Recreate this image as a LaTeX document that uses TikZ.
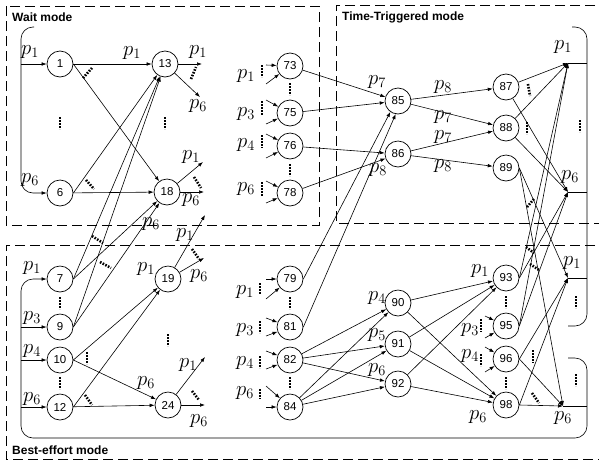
\documentclass[tikz,border=0pt]{standalone}
\usepackage{fontspec}
\setsansfont{Liberation Sans}
\usetikzlibrary{arrows.meta}
\begin{document}
\begin{tikzpicture}[x=1pt,y=-1pt,
 nd/.style={circle, draw, line width=0.7pt, minimum size=26pt, inner sep=0pt, font=\fontsize{11.5}{12}\sffamily},
 ar/.style={-{Latex[length=5pt,width=3.6pt]}, line width=0.6pt},
 ln/.style={line width=0.6pt},
 dts/.style={line width=2.6pt, dash pattern=on 1.6pt off 1.4pt},
 lb/.style={font=\fontsize{20}{22}\selectfont, inner sep=0pt},
 ttl/.style={font=\fontsize{12}{14}\sffamily\bfseries, anchor=west, inner sep=0pt},
 bx/.style={line width=0.8pt, dash pattern=on 10pt off 5pt}]
\useasboundingbox (0,0) rectangle (599,464);

% mode boxes
\draw[bx] (6,6) rectangle (319,225);
\draw[bx] (610,5) -- (336,5) -- (336,223) -- (610,223);
\draw[bx] (610,245) -- (6,245) -- (6,459) -- (610,459);
\node[ttl] (tw) at (12,17) {Wait mode};
\node[ttl] (tt) at (342,17) {Time-Triggered mode};
\node[ttl] (tb) at (12,450) {Best-effort mode};

% nodes
\node[nd] (n1) at (60,64) {1};
\node[nd] (n6) at (60,193) {6};
\node[nd] (n13) at (165,64) {13};
\node[nd] (n18) at (167,192) {18};
\node[nd] (n7) at (60,279) {7};
\node[nd] (n9) at (60,327) {9};
\node[nd] (n10) at (60,360) {10};
\node[nd] (n12) at (60,407) {12};
\node[nd] (n19) at (168,279) {19};
\node[nd] (n24) at (168,405) {24};
\node[nd] (n73) at (290,66) {73};
\node[nd] (n75) at (290,113) {75};
\node[nd] (n76) at (290,146) {76};
\node[nd] (n78) at (290,193) {78};
\node[nd] (n79) at (290,279) {79};
\node[nd] (n81) at (290,327) {81};
\node[nd] (n82) at (290,360) {82};
\node[nd] (n84) at (290,407) {84};
\node[nd] (n85) at (398,101) {85};
\node[nd] (n86) at (398,154) {86};
\node[nd] (n87) at (506,87) {87};
\node[nd] (n88) at (506,128) {88};
\node[nd] (n89) at (506,168) {89};
\node[nd] (n90) at (398,303) {90};
\node[nd] (n91) at (398,344) {91};
\node[nd] (n92) at (398,384) {92};
\node[nd] (n93) at (506,278) {93};
\node[nd] (n95) at (506,326) {95};
\node[nd] (n96) at (506,359) {96};
\node[nd] (n98) at (506,405) {98};

% terminal points
\coordinate (tp1) at (568,63);
\coordinate (tp6) at (568,192);
\coordinate (bp1) at (568,278);
\coordinate (bp6) at (563,406);

% brackets
\draw[ar, rounded corners=12pt] (34,27) -- (21,27) -- (21,193) -- (n6);
\draw[ar] (21,64) -- (n1);
\draw[ar, rounded corners=12pt] (568,358) -- (587,358) -- (587,438) -- (21,438) -- (21,279) -- (n7);
\draw[ar] (21,327) -- (n9);
\draw[ar] (21,360) -- (n10);
\draw[ar] (21,407) -- (n12);
\draw[ln, rounded corners=12pt] (572,27) -- (587,27) -- (587,326) -- (568,326);
\draw[ln] (tp1) -- (587,63);
\draw[ln] (tp6) -- (587,192);
\draw[ln] (bp1) -- (587,278);
\draw[ln] (bp6) -- (587,406);

% wait mode edges
\draw[ar] (n1) -- (n13);
\draw[ar] (n1.east) -- (n18);
\draw[ar] (n6.east) -- (n13);
\draw[ar] (n6) -- (n18);
\draw[ar] (n7.east) -- (n13);
\draw[ar] (n7.east) -- (n18);
\draw[ar] (n9.east) -- (n13);
\draw[ar] (n9.east) -- (n18);
\coordinate (o13a) at (202,64);
\coordinate (o13b) at (200,97);
\coordinate (o18a) at (203,162);
\coordinate (o18b) at (204,192);
\draw[ar] (n13) -- (o13a);
\draw[ar] (n13) -- (o13b);
\draw[ar] (n18) -- (o18a);
\draw[ar] (n18) -- (o18b);

% best effort left
\draw[ar] (n10.east) -- (n19);
\draw[ar] (n10.east) -- (n24);
\draw[ar] (n12.east) -- (n19);
\draw[ar] (n12) -- (n24);
\coordinate (o19a) at (205,215);
\coordinate (o19b) at (204,258);
\coordinate (o24a) at (205,357);
\coordinate (o24b) at (205,405);
\draw[ar] (n19) -- (o19a);
\draw[ar] (n19) -- (o19b);
\draw[ar] (n24) -- (o24a);
\draw[ar] (n24) -- (o24b);

% middle inputs
\foreach \n/\a/\b in {73/65/84, 75/100/124, 76/134/158, 78/181/203, 79/279/299, 81/318/336, 82/351/369, 84/386/407}{
  \coordinate (ia\n) at (266,\a);
  \coordinate (ib\n) at (266,\b);
  \draw[ar] (ia\n) -- (n\n);
  \draw[ar] (ib\n) -- (n\n);
}
\foreach \n/\a/\b in {95/316/338, 96/347/372}{
  \coordinate (ia\n) at (485,\a);
  \coordinate (ib\n) at (485,\b);
  \draw[ar] (ia\n) -- (n\n);
  \draw[ar] (ib\n) -- (n\n);
}

% middle edges
\draw[ar] (n73) -- (n85);
\draw[ar] (n75) -- (n85);
\draw[ar] (n76) -- (n86);
\draw[ar] (n78) -- (n86);
\draw[ar] (n79.east) -- (n85.235);
\draw[ar] (n81.east) -- (n85.260);
\draw[ar] (n82) -- (n90);
\draw[ar] (n82) -- (n91);
\draw[ar] (n82) -- (n92);
\draw[ar] (n84) -- (n90);
\draw[ar] (n84) -- (n91);
\draw[ar] (n84) -- (n92);
\draw[ar] (n85) -- (n87);
\draw[ar] (n85) -- (n88);
\draw[ar] (n86) -- (n88);
\draw[ar] (n86) -- (n89);
\draw[ar] (n90) -- (n93);
\draw[ar] (n90) -- (n98);
\draw[ar] (n91) -- (n93);
\draw[ar] (n91) -- (n98);
\draw[ar] (n92) -- (n93);
\draw[ar] (n92) -- (n98);

% right side edges
\draw[ar] (n87) -- (tp1);
\draw[ar] (n87) -- (tp6);
\draw[ar] (n88) -- (tp1);
\draw[ar] (n88) -- (tp6);
\draw[ar] (n89.east) -- (bp1);
\draw[ar] (n89.east) -- (bp6);
\draw[ar] (n93.east) -- (tp1);
\draw[ar] (n93.east) -- (tp6);
\draw[ar] (n95.east) -- (tp1);
\draw[ar] (n95.east) -- (tp6);
\draw[ar] (n96.east) -- (bp1);
\draw[ar] (n96.east) -- (bp6);
\draw[ar] (n98.east) -- (bp1);
\draw[ar] (n98.east) -- (bp6);

% dots
\draw[dts] (60,117) -- (60,129);
\draw[dts] (165,117) -- (165,129);
\draw[dts] (83,78) -- (92,68);
\draw[dts] (86,180) -- (94,189);
\draw[dts] (191,79) -- (196,67);
\draw[dts] (194,177) -- (201,188);
\draw[dts] (92,236) -- (103,243);
\draw[dts] (100,262) -- (111,268);
\draw[dts] (60,297) -- (60,309);
\draw[dts] (60,377) -- (60,389);
\draw[dts] (87,352) -- (87,364);
\draw[dts] (85,395) -- (92,405);
\draw[dts] (168,334) -- (168,346);
\draw[dts] (192,249) -- (199,259);
\draw[dts] (192,391) -- (199,400);
\draw[dts] (262,65) -- (262,77);
\draw[dts] (262,101) -- (262,115);
\draw[dts] (262,135) -- (262,148);
\draw[dts] (262,182) -- (262,196);
\draw[dts] (260,283) -- (260,294);
\draw[dts] (260,321) -- (260,333);
\draw[dts] (260,356) -- (260,368);
\draw[dts] (260,389) -- (260,399);
\draw[dts] (290,83) -- (290,95);
\draw[dts] (290,164) -- (290,176);
\draw[dts] (290,297) -- (290,309);
\draw[dts] (290,377) -- (290,389);
\draw[dts] (528,84) -- (530,96);
\draw[dts] (527,122) -- (527,134);
\draw[dts] (527,207) -- (534,199);
\draw[dts] (580,120) -- (580,132);
\draw[dts] (576,296) -- (576,308);
\draw[dts] (576,374) -- (576,386);
\draw[dts] (506,296) -- (506,308);
\draw[dts] (506,377) -- (506,389);
\draw[dts] (481,319) -- (481,332);
\draw[dts] (481,354) -- (481,366);
\draw[dts] (533,350) -- (533,363);
\draw[dts] (532,393) -- (539,403);
\draw[dts] (526,247) -- (534,253);
\draw[dts] (530,264) -- (539,270);

% labels
\node[lb] (l01) at (30,52) {$p_1$};
\node[lb] (l02) at (30,180) {$p_6$};
\node[lb] (l03) at (132,53) {$p_1$};
\node[lb] (l04) at (198,52) {$p_1$};
\node[lb] (l05) at (198,106) {$p_6$};
\node[lb] (l06) at (191,157) {$p_1$};
\node[lb] (l07) at (191,200) {$p_6$};
\node[lb] (l08) at (151,224) {$p_6$};
\node[lb] (l09) at (32,268) {$p_1$};
\node[lb] (l10) at (32,318) {$p_3$};
\node[lb] (l11) at (32,351) {$p_4$};
\node[lb] (l12) at (32,399) {$p_6$};
\node[lb] (l13) at (146,269) {$p_1$};
\node[lb] (l14) at (146,383) {$p_6$};
\node[lb] (l15) at (185,235) {$p_1$};
\node[lb] (l16) at (199,276) {$p_6$};
\node[lb] (l17) at (188,365) {$p_1$};
\node[lb] (l18) at (199,421) {$p_6$};
\node[lb] (l19) at (246,76) {$p_1$};
\node[lb] (l20) at (246,114) {$p_3$};
\node[lb] (l21) at (246,145) {$p_4$};
\node[lb] (l22) at (246,189) {$p_6$};
\node[lb] (l23) at (245,292) {$p_1$};
\node[lb] (l24) at (245,330) {$p_3$};
\node[lb] (l25) at (245,363) {$p_4$};
\node[lb] (l26) at (245,393) {$p_6$};
\node[lb] (l27) at (377,82) {$p_7$};
\node[lb] (l28) at (443,87) {$p_8$};
\node[lb] (l29) at (443,117) {$p_7$};
\node[lb] (l30) at (443,137) {$p_7$};
\node[lb] (l31) at (443,166) {$p_8$};
\node[lb] (l32) at (378,170) {$p_8$};
\node[lb] (l33) at (563,47) {$p_1$};
\node[lb] (l34) at (570,177) {$p_6$};
\node[lb] (l35) at (572,263) {$p_1$};
\node[lb] (l36) at (563,418) {$p_6$};
\node[lb] (l37) at (377,298) {$p_4$};
\node[lb] (l38) at (377,335) {$p_5$};
\node[lb] (l39) at (377,370) {$p_6$};
\node[lb] (l40) at (480,271) {$p_1$};
\node[lb] (l41) at (470,330) {$p_3$};
\node[lb] (l42) at (470,356) {$p_4$};
\node[lb] (l43) at (478,417) {$p_6$};
\end{tikzpicture}
\end{document}
